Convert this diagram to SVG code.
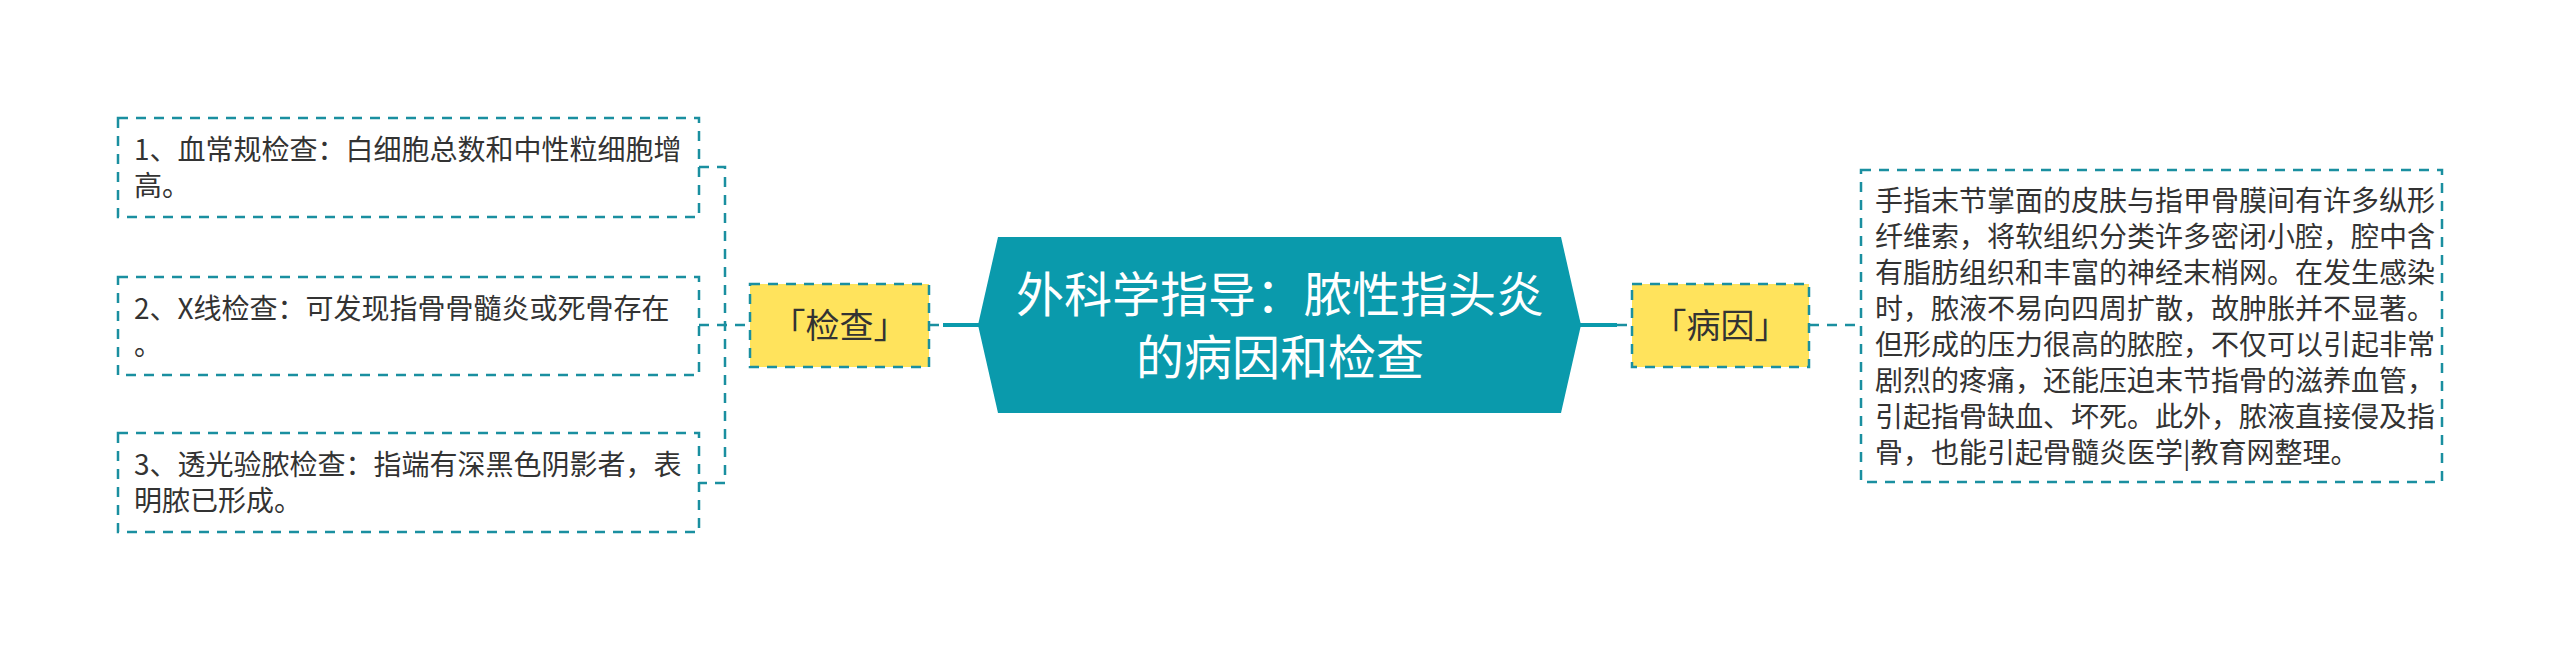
<svg xmlns="http://www.w3.org/2000/svg" width="2560" height="652" viewBox="0 0 2560 652">
<style>
.dash{fill:none;stroke:#1A8FA0;stroke-width:2.5;stroke-dasharray:10 8}
.leaf{fill:#FFFFFF;stroke:#1A8FA0;stroke-width:2.5;stroke-dasharray:10 8}
.branch{fill:#FFE35C;stroke:#1A8FA0;stroke-width:2.5;stroke-dasharray:10 8}
.solid{fill:none;stroke:#0A9AAC;stroke-width:4}
.t{font-family:"Noto Sans CJK SC","Noto Sans",sans-serif;fill:#333333}
.lt{font-size:28px}
.bt{font-size:34px;text-anchor:middle}
.ct{font-family:"Noto Sans CJK SC","Noto Sans",sans-serif;fill:#FFFFFF;font-size:48px;text-anchor:middle}
</style>
<rect width="2560" height="652" fill="#FFFFFF"/>
<g id="connectors">
<path class="dash" d="M699,167 H725 V483 H699"/>
<path class="dash" d="M699,325 H750"/>
<path class="dash" d="M929,325 H943"/>
<path class="solid" d="M943,325 H980"/>
<path class="solid" d="M1580,325 H1617"/>
<path class="dash" d="M1617,325 H1632"/>
<path class="dash" d="M1809,325 H1861"/>
</g>
<g id="center">
<polygon points="978,325 998,237 1561,237 1581,325 1561,413 998,413" fill="#0A9AAC"/>
<text class="ct" x="1280" y="312">外科学指导：脓性指头炎</text>
<text class="ct" x="1280" y="375">的病因和检查</text>
</g>
<g id="branch-jiancha">
<rect class="branch" x="750" y="284" width="179" height="83"/>
<text class="t bt" x="839.5" y="338">「检查」</text>
</g>
<g id="branch-bingyin">
<rect class="branch" x="1632" y="284" width="177" height="83"/>
<text class="t bt" x="1720.5" y="338">「病因」</text>
</g>
<g id="leaf1">
<rect class="leaf" x="118" y="118" width="581" height="99"/>
<text class="t lt" x="134" y="160">1、血常规检查：白细胞总数和中性粒细胞增</text>
<text class="t lt" x="134" y="196">高。</text>
</g>
<g id="leaf2">
<rect class="leaf" x="118" y="277" width="581" height="98"/>
<text class="t lt" x="134" y="319">2、X线检查：可发现指骨骨髓炎或死骨存在</text>
<text class="t lt" x="134" y="355">。</text>
</g>
<g id="leaf3">
<rect class="leaf" x="118" y="433" width="581" height="99"/>
<text class="t lt" x="134" y="475">3、透光验脓检查：指端有深黑色阴影者，表</text>
<text class="t lt" x="134" y="511">明脓已形成。</text>
</g>
<g id="leaf4">
<rect class="leaf" x="1861" y="170" width="581" height="312"/>
<text class="t lt" x="1875" y="211">手指末节掌面的皮肤与指甲骨膜间有许多纵形</text>
<text class="t lt" x="1875" y="247">纤维索，将软组织分类许多密闭小腔，腔中含</text>
<text class="t lt" x="1875" y="283">有脂肪组织和丰富的神经末梢网。在发生感染</text>
<text class="t lt" x="1875" y="319">时，脓液不易向四周扩散，故肿胀并不显著。</text>
<text class="t lt" x="1875" y="355">但形成的压力很高的脓腔，不仅可以引起非常</text>
<text class="t lt" x="1875" y="391">剧烈的疼痛，还能压迫末节指骨的滋养血管，</text>
<text class="t lt" x="1875" y="427">引起指骨缺血、坏死。此外，脓液直接侵及指</text>
<text class="t lt" x="1875" y="463">骨，也能引起骨髓炎医学|教育网整理。</text>
</g>
</svg>
